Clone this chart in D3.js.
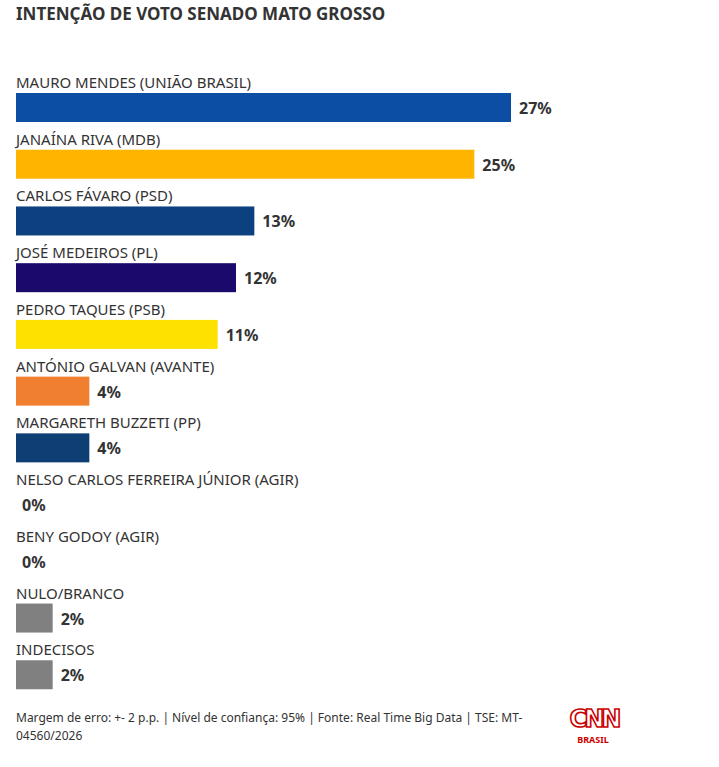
<!DOCTYPE html>
<html>
<head>
<meta charset="utf-8">
<script src="https://cdn.jsdelivr.net/npm/d3@7"></script>
<style>
  body { margin: 0; background: #fff; font-family: "Source Sans Pro", "Noto Sans", sans-serif; }
</style>
</head>
<body>
<svg id="chart" width="719" height="767"></svg>
<script>
var candidates = ["MAURO MENDES (UNIÃO BRASIL)", "JANAÍNA RIVA (MDB)", "CARLOS FÁVARO (PSD)",
  "JOSÉ MEDEIROS (PL)", "PEDRO TAQUES (PSB)", "ANTÓNIO GALVAN (AVANTE)", "MARGARETH BUZZETI (PP)",
  "NELSO CARLOS FERREIRA JÚNIOR (AGIR)", "BENY GODOY (AGIR)", "NULO/BRANCO", "INDECISOS"]
var values = [27, 25, 13, 12, 11, 4, 4, 0, 0, 2, 2]
var colors = ["#0c4ea3", "#ffb400", "#0d407e", "#1b0a6c", "#ffe100", "#f17f30", "#0e3e73",
  "#808080", "#808080", "#808080", "#808080"]

var svg = d3.select("#chart")
var x = d3.scaleLinear().domain([0, 27]).range([16, 511])
var y = d3.scaleBand().domain(d3.range(candidates.length)).range([70, 694]).paddingInner(0)

svg.append("text").attr("x", 16).attr("y", 20).attr("font-size", 17).attr("font-weight", 700)
  .attr("fill", "#333").text("INTENÇÃO DE VOTO SENADO MATO GROSSO")

var row = svg.selectAll("g.row").data(values).enter().append("g")
  .attr("transform", function(d, i) { return "translate(0," + y(i) + ")" })

row.append("text").attr("x", 16).attr("y", 18).attr("font-size", 15).attr("fill", "#333")
  .text(function(d, i) { return candidates[i] })
row.append("rect").attr("x", x(0)).attr("y", 23).attr("height", 29)
  .attr("width", function(d) { return x(d) - x(0) })
  .attr("fill", function(d, i) { return colors[i] })
row.append("text").attr("x", function(d) { return x(d) + (d > 0 ? 8 : 6) }).attr("y", 44)
  .attr("font-size", 16).attr("font-weight", 700).attr("fill", "#333")
  .text(function(d) { return d + "%" })

svg.append("text").attr("x", 16).attr("y", 722).attr("font-size", 12).attr("fill", "#333")
  .text("Margem de erro: +- 2 p.p. | Nível de confiança: 95% | Fonte: Real Time Big Data | TSE: MT-")
svg.append("text").attr("x", 16).attr("y", 740).attr("font-size", 12).attr("fill", "#333")
  .text("04560/2026")

svg.append("text").attr("x", 594).attr("y", 727).attr("text-anchor", "middle").attr("font-size", 24)
  .attr("font-weight", 700).attr("fill", "none").attr("stroke", "#cc0000").attr("stroke-width", 1.6)
  .attr("letter-spacing", -3).attr("font-family", "DejaVu Sans").text("CNN")
svg.append("text").attr("x", 593).attr("y", 743).attr("text-anchor", "middle").attr("font-size", 9)
  .attr("font-weight", 700).attr("fill", "#cc0000").text("BRASIL")
</script>
</body>
</html>
